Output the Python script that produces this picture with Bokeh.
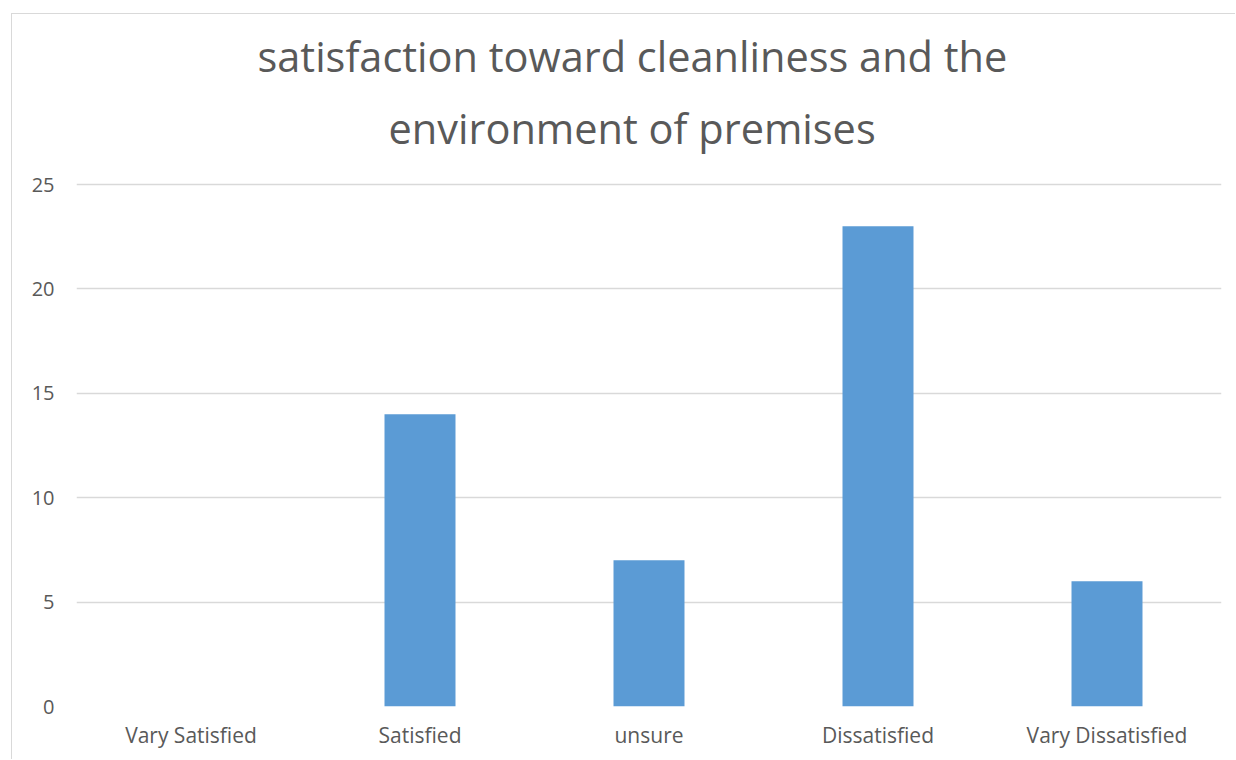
from bokeh.plotting import figure
from bokeh.models import Title, FixedTicker
from bokeh.embed import file_html
from bokeh.resources import INLINE

# Survey answers and counts
categories = ["Vary Satisfied", "Satisfied", "unsure", "Dissatisfied", "Vary Dissatisfied"]
counts = [0, 14, 7, 23, 6]
y_ticks = [0, 5, 10, 15, 20, 25]
title_lines = ["satisfaction toward cleanliness and the", "environment of premises"]

TEXT = "#595959"
GRID = "#d9d9d9"
BAR = "#5b9bd5"
FONT = "Open Sans"

p = figure(
    x_range=categories,
    y_range=(0, 25.1),
    width=1224,
    height=746,
    margin=(14, 0, 0, 12),
    output_backend="svg",
    toolbar_location=None,
    min_border_left=64,
    min_border_right=15,
    min_border_top=168,
    min_border_bottom=54,
)
p.styles = {"box-shadow": "-1px -1px 0 #d9d9d9"}
p.x_range.range_padding = 0

p.vbar(x=categories, top=counts, width=0.31, fill_color=BAR, line_color=None)

p.outline_line_color = None
p.xgrid.grid_line_color = None
p.ygrid.grid_line_color = GRID
p.ygrid.grid_line_width = 1.5
p.ygrid.level = "underlay"

p.yaxis.ticker = FixedTicker(ticks=y_ticks)
for ax in (p.xaxis, p.yaxis):
    ax.axis_line_color = None
    ax.major_tick_line_color = None
    ax.minor_tick_line_color = None
    ax.major_tick_out = 0
    ax.major_tick_in = 0
    ax.major_label_text_color = TEXT
    ax.major_label_text_font = FONT
p.xaxis.major_label_text_font_size = "21px"
p.yaxis.major_label_text_font_size = "20px"
p.yaxis.major_label_standoff = 22
p.xaxis.major_label_standoff = 14

# Two-line chart title, centred over the whole chart box rather than the plot
# area; the line added first sits nearest the plot area
for line, gap, shift in ((title_lines[1], 54, 312), (title_lines[0], -26, 181)):
    p.add_layout(Title(
        text=line, align="left", standoff=gap, offset=shift,
        text_font=FONT, text_font_size="41.5px", text_font_style="normal",
        text_color=TEXT,
    ), "above")

open("out.html", "w").write(file_html(p, INLINE))
